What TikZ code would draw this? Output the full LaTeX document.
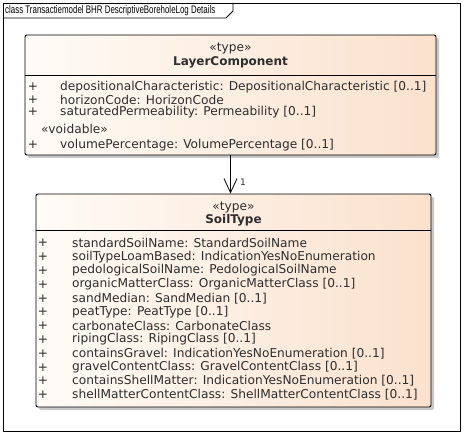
\documentclass[tikz,border=0pt]{standalone}
\usepackage{fontspec}
\setmainfont{DejaVu Sans}
\newfontfamily\framefont[FakeStretch=0.72]{Liberation Sans}
\usetikzlibrary{shadows,arrows.meta}
\definecolor{peach}{RGB}{250,225,205}
\definecolor{cream}{RGB}{255,251,247}
\definecolor{ink}{RGB}{45,45,45}
\tikzset{
  classbox/.style={draw=black, line width=0.9pt, rounded corners=2pt,
    left color=cream, right color=peach,
    drop shadow={shadow xshift=3pt, shadow yshift=-3pt, fill=black!22, opacity=1}},
  plus/.style={anchor=center},
  attr/.style={anchor=west},
  uname/.style={font=\bfseries\fontsize{12}{14}\selectfont}
}

\begin{document}
\begin{tikzpicture}[x=1pt,y=-1pt,font=\fontsize{12.2}{14}\selectfont,
  every node/.style={inner sep=0pt, text=ink}]
\useasboundingbox (0,0) rectangle (464,436);
% diagram frame
\draw [line width=0.8pt] (3,3) rectangle (460,431);
\draw [line width=0.8pt] (3,18) -- (226,18) -- (233,11) -- (233,3);
\node [anchor=west, font=\framefont\fontsize{11}{12}\selectfont, text=black] (title) at (5,10.5) {class Transactiemodel BHR DescriptiveBoreholeLog Details};

% LayerComponent
\node [classbox, minimum width=411pt, minimum height=120pt] (layer) at (230.5,95) {};
\draw [line width=0.8pt] (layer.west |- 0,75) -- (layer.east |- 0,75);
\node (ltype) at (layer.north |- 0,48) {«type»};
\node [uname] (lname) at (layer.north |- 0,62) {LayerComponent};
\foreach \t [count=\i] in {{depositionalCharacteristic: DepositionalCharacteristic [0..1]},
    {horizonCode: HorizonCode}, {saturatedPermeability: Permeability [0..1]}} {
  \node [plus] (lp\i) at (33,74.5+12.5*\i) {+};
  \node [attr] (la\i) at (60,74.5+12.5*\i) {\t};
}
\node [attr] (lvoid) at (41,129) {«voidable»};
\node [plus] (lp4) at (33,145) {+};
\node [attr] (la4) at (60,145) {volumePercentage: VolumePercentage [0..1]};

% SoilType
\node [classbox, minimum width=395pt, minimum height=213pt] (soil) at (233.5,300.5) {};
\draw [line width=0.8pt] (soil.west |- 0,230) -- (soil.east |- 0,230);
\node (stype) at (soil.north |- 0,207) {«type»};
\node [uname] (sname) at (soil.north |- 0,220) {SoilType};
\foreach \t [count=\i] in {{standardSoilName: StandardSoilName},
    {soilTypeLoamBased: IndicationYesNoEnumeration},
    {pedologicalSoilName: PedologicalSoilName},
    {organicMatterClass: OrganicMatterClass [0..1]},
    {sandMedian: SandMedian [0..1]},
    {peatType: PeatType [0..1]},
    {carbonateClass: CarbonateClass},
    {ripingClass: RipingClass [0..1]},
    {containsGravel: IndicationYesNoEnumeration [0..1]},
    {gravelContentClass: GravelContentClass [0..1]},
    {containsShellMatter: IndicationYesNoEnumeration [0..1]},
    {shellMatterContentClass: ShellMatterContentClass [0..1]}} {
  \node [plus] (sp\i) at (43,229.2+13.8*\i) {+};
  \node [attr] (sa\i) at (72,229.2+13.8*\i) {\t};
}

% association
\draw [line width=0.8pt, -{Straight Barb[length=14pt,width=13pt]}] (layer.south) -- (layer.south |- soil.north);
\node [font=\fontsize{9}{10}\selectfont] (mult) at (243,182) {1};
\end{tikzpicture}
\end{document}
